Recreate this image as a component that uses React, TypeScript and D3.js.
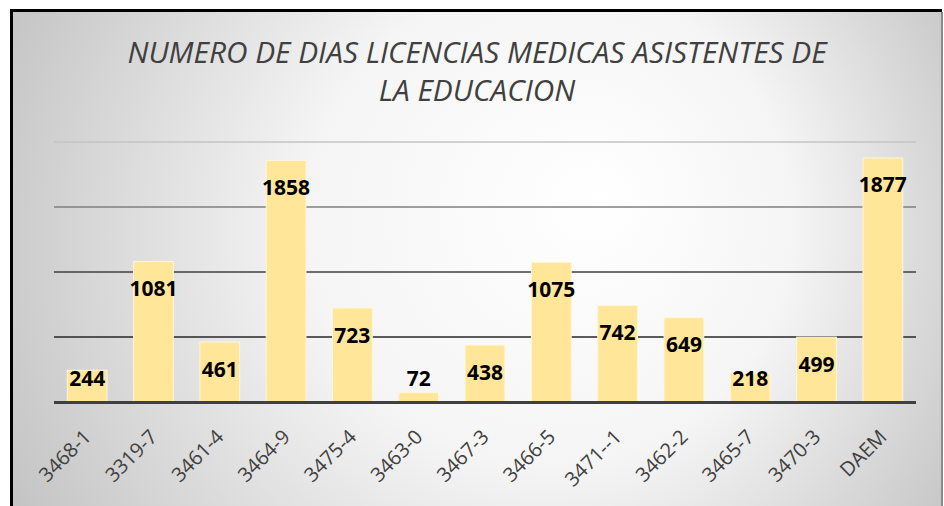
import React from "react";
import * as d3 from "d3";

const categories = ["3468-1", "3319-7", "3461-4", "3464-9", "3475-4", "3463-0", "3467-3", "3466-5", "3471--1", "3462-2", "3465-7", "3470-3", "DAEM"];
const values = [244, 1081, 461, 1858, 723, 72, 438, 1075, 742, 649, 218, 499, 1877];
const gridTicks = [500, 1000, 1500, 2000];
const titleLines = ["NUMERO DE DIAS LICENCIAS MEDICAS ASISTENTES DE", "LA EDUCACION"];

const W = 944;
const H = 506;
const plotLeft = 54;
const plotRight = 916;
const plotTop = 142;
const plotBottom = 402;

export default function App() {
  const x = d3.scaleBand<string>().domain(categories).range([plotLeft, plotRight]).paddingInner(0.4).paddingOuter(0.2);
  const y = d3.scaleLinear().domain([0, 2000]).range([plotBottom, plotTop]);
  const labelFont = "'Open Sans', 'Noto Sans', sans-serif";

  return (
    <svg width={W} height={H} style={{ position: "absolute", left: 0, top: 0, display: "block" }}>
      <defs>
        <radialGradient id="bg" gradientUnits="userSpaceOnUse" cx={490} cy={250} r={540} fx={600} fy={200}>
          <stop offset="0" stopColor="#ffffff" />
          <stop offset="0.45" stopColor="#f5f5f5" />
          <stop offset="1" stopColor="#c4c4c4" />
        </radialGradient>
        <linearGradient id="gridGrad" gradientUnits="userSpaceOnUse" x1={0} y1={y(2000)} x2={0} y2={y(500)}>
          <stop offset="0" stopColor="#c4c4c4" />
          <stop offset="0.33" stopColor="#808080" />
          <stop offset="0.66" stopColor="#404040" />
          <stop offset="1" stopColor="#262626" />
        </linearGradient>
      </defs>
      <rect x={0} y={0} width={W} height={H} fill="#ffffff" />
      <rect x={11} y={11} width={931} height={H} fill="url(#bg)" />
      <line x1={11.5} y1={9.5} x2={11.5} y2={H} stroke="#000" strokeWidth={3} />
      <line x1={10} y1={10.5} x2={942} y2={10.5} stroke="#000" strokeWidth={3} />
      <line x1={942} y1={12} x2={942} y2={H} stroke="#8a8a8a" strokeWidth={2} />

      {titleLines.map((t, i) => (
        <text key={t} x={477} y={63 + i * 38} textAnchor="middle" fontFamily={labelFont} fontStyle="italic" fontWeight={400} fontSize={29.8} fill="#404040">
          {t}
        </text>
      ))}

      {gridTicks.map((t) => (
        <line key={t} x1={plotLeft} x2={plotRight} y1={y(t)} y2={y(t)} stroke="url(#gridGrad)" strokeWidth={1.6} />
      ))}

      {categories.map((c, i) => (
        <rect key={c} x={x(c)} y={y(values[i])} width={x.bandwidth()} height={plotBottom - y(values[i])} fill="#FFE699" stroke="#fff6d8" strokeWidth={1} />
      ))}

      <line x1={plotLeft} x2={plotRight} y1={plotBottom + 0.5} y2={plotBottom + 0.5} stroke="#404040" strokeWidth={3} />

      {categories.map((c, i) => {
        const cy = Math.min(y(values[i]) + 27, 378);
        return (
          <text key={c} x={(x(c) as number) + x.bandwidth() / 2} y={cy + 7.5} textAnchor="middle" fontFamily={labelFont} fontWeight={700} fontSize={21} fill="#000">
            {values[i]}
          </text>
        );
      })}

      {categories.map((c) => {
        const cx = (x(c) as number) + x.bandwidth() / 2;
        return (
          <text key={c} transform={`translate(${cx - 5},${plotBottom + 26}) rotate(-45)`} dy="0.72em" textAnchor="end" fontFamily={labelFont} fontWeight={400} fontSize={20} fill="#404040">
            {c}
          </text>
        );
      })}
    </svg>
  );
}
